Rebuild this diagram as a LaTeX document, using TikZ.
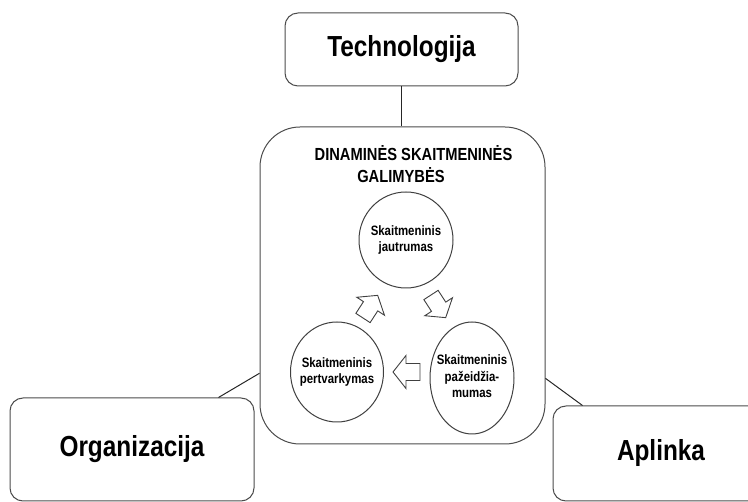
\documentclass[tikz,border=0pt]{standalone}
\usepackage{fontspec}
\setmainfont{Liberation Sans}
\usetikzlibrary{shapes.geometric,calc}

% slightly condensed bold sans text
\newcommand{\cnd}[1]{\scalebox{0.84}[1]{#1}}
\newcommand{\twolines}[2]{\cnd{\begin{tabular}{@{}c@{}}#1\\#2\end{tabular}}}
\newcommand{\threelines}[3]{\cnd{\begin{tabular}{@{}c@{}}#1\\#2\\#3\end{tabular}}}

\begin{document}
\begin{tikzpicture}[x=1pt,y=-1pt,
  frame/.style={draw=black!70,line width=1pt,fill=white,inner sep=0pt},
  bigbox/.style={frame,rounded corners=13pt,font=\fontsize{29}{34}\selectfont\bfseries},
  stage/.style={ellipse,draw=black!75,line width=1pt,inner sep=0pt},
  stagetext/.style={inner sep=0pt,font=\fontsize{13.6}{16.5}\selectfont\bfseries},
  link/.style={draw=black!85,line width=1pt},
  titletext/.style={anchor=base,inner sep=0pt,font=\fontsize{17.5}{20}\selectfont\bfseries},
  arrowline/.style={draw=black!75,line width=0.9pt,fill=white,line join=miter},
  blockarrow/.pic={\draw[arrowline] (0,-8.5) -- (14,-8.5) -- (14,-16.5) -- (27,0)
      -- (14,16.5) -- (14,8.5) -- (0,8.5) -- cycle;}]
\useasboundingbox (0,0) rectangle (748,502);
\clip (0,0) rectangle (748,502);

% outer boxes
\node[bigbox,minimum width=233pt,minimum height=73pt] (tech) at (401.5,49.5) {\cnd{Technologija}};
\node[bigbox,minimum width=244pt,minimum height=103pt] (org) at (132,449.5) {\cnd{Organizacija}};
\node[bigbox,minimum width=216pt,minimum height=95pt] (apl) at (661,453.5) {\cnd{Aplinka}};

% central container
\node[frame,rounded corners=40pt,minimum width=285pt,minimum height=317pt] (dsg) at (402.5,285.5) {};

% connectors between the boxes
\draw[link] (tech.south) -- (tech.south |- dsg.north);
\draw[link] ([xshift=-36pt]org.north east) -- ($(dsg.south west)!0.224!(dsg.north west)$);
\draw[link] ([xshift=30pt]apl.north west) -- ($(dsg.south east)!0.208!(dsg.north east)$);

% title of the container
\node[titletext] (title1) at (413.5,161) {\cnd{DINAMINĖS SKAITMENINĖS}};
\node[titletext] (title2) at (401,183) {\cnd{GALIMYBĖS}};

% the three capabilities
\node[stage,minimum width=94pt,minimum height=96pt] (sense) at (406,240) {};
\node[stage,minimum width=93pt,minimum height=100pt] (trans) at (337,372) {};
\node[stage,minimum width=84pt,minimum height=112pt] (vuln) at (472,378) {};
\node[stagetext] (sensetext) at (sense) {\twolines{Skaitmeninis}{jautrumas}};
\node[stagetext] (transtext) at (trans) {\twolines{Skaitmeninis}{pertvarkymas}};
\node[stagetext] (vulntext) at (vuln) {\threelines{Skaitmeninis}{pažeidžia-}{mumas}};

% block arrows of the cycle
\pic[rotate=57] (a1) at (363,318) {blockarrow};
\pic[rotate=-57] (a2) at (431,295) {blockarrow};
\pic[rotate=180] (a3) at (420,372) {blockarrow};
\end{tikzpicture}
\end{document}
